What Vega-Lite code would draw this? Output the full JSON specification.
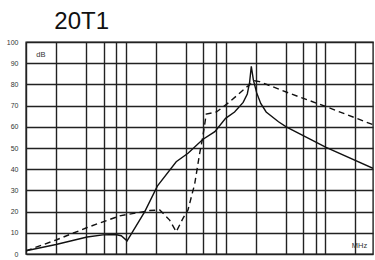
{
  "$schema": "https://vega.github.io/schema/vega-lite/v6.json",
  "width": 347,
  "height": 212,
  "autosize": {"type": "none"},
  "padding": {"left": 26, "top": 42, "right": 2, "bottom": 6},
  "background": "white",
  "title": {"text": "20T1", "anchor": "start", "dx": 48, "offset": -20, "baseline": "bottom", "font": "Liberation Sans", "fontSize": 24, "fontWeight": "normal", "color": "#111"},
  "config": {
    "view": {"stroke": "#222", "strokeWidth": 1.4},
    "axis": {"gridColor": "#222", "gridOpacity": 1, "gridWidth": 1.4, "domain": false, "ticks": false}
  },
  "datasets": {
    "curves": [
      {"series": "solid", "f": 1, "db": 1.5},
      {"series": "solid", "f": 2, "db": 4.5},
      {"series": "solid", "f": 4.1, "db": 8},
      {"series": "solid", "f": 5.9, "db": 9},
      {"series": "solid", "f": 7.9, "db": 9.2},
      {"series": "solid", "f": 9, "db": 8.6},
      {"series": "solid", "f": 10.3, "db": 6.2},
      {"series": "solid", "f": 15.5, "db": 20},
      {"series": "solid", "f": 20.7, "db": 32},
      {"series": "solid", "f": 32, "db": 43.5},
      {"series": "solid", "f": 42, "db": 47.5},
      {"series": "solid", "f": 59, "db": 54},
      {"series": "solid", "f": 78, "db": 57.7},
      {"series": "solid", "f": 100, "db": 64},
      {"series": "solid", "f": 123, "db": 67},
      {"series": "solid", "f": 150, "db": 71.5},
      {"series": "solid", "f": 165, "db": 75.5},
      {"series": "solid", "f": 174, "db": 81},
      {"series": "solid", "f": 181, "db": 88.5},
      {"series": "solid", "f": 190, "db": 82},
      {"series": "solid", "f": 205, "db": 76},
      {"series": "solid", "f": 225, "db": 71},
      {"series": "solid", "f": 255, "db": 67},
      {"series": "solid", "f": 339, "db": 62.4},
      {"series": "solid", "f": 405, "db": 60},
      {"series": "solid", "f": 1016, "db": 50.3},
      {"series": "solid", "f": 3000, "db": 40.4},
      {"series": "dashed", "f": 1, "db": 1.5},
      {"series": "dashed", "f": 2, "db": 6.6},
      {"series": "dashed", "f": 4.1, "db": 12.5},
      {"series": "dashed", "f": 8.7, "db": 18},
      {"series": "dashed", "f": 17.4, "db": 20.5},
      {"series": "dashed", "f": 21.9, "db": 20.8},
      {"series": "dashed", "f": 27.5, "db": 16},
      {"series": "dashed", "f": 32, "db": 10.5},
      {"series": "dashed", "f": 37.4, "db": 16.8},
      {"series": "dashed", "f": 42, "db": 20.8},
      {"series": "dashed", "f": 49, "db": 33},
      {"series": "dashed", "f": 55, "db": 47.5},
      {"series": "dashed", "f": 59, "db": 55},
      {"series": "dashed", "f": 64, "db": 66},
      {"series": "dashed", "f": 81, "db": 67},
      {"series": "dashed", "f": 110, "db": 71.8},
      {"series": "dashed", "f": 161, "db": 78.6},
      {"series": "dashed", "f": 195, "db": 81.7},
      {"series": "dashed", "f": 219, "db": 81.3},
      {"series": "dashed", "f": 437, "db": 75.8},
      {"series": "dashed", "f": 1016, "db": 69.5},
      {"series": "dashed", "f": 3000, "db": 61}
    ],
    "notes": [
      {"label": "dB", "f": 1.41, "db": 94},
      {"label": "MHz", "f": 2200, "db": 4}
    ]
  },
  "encoding": {
    "x": {"field": "f", "type": "quantitative",
          "scale": {"type": "log", "domain": [1, 3000], "nice": false},
          "axis": {"title": null, "labels": false, "grid": true,
                   "values": [1, 2, 4, 6, 8, 10, 20, 40, 60, 80, 100, 200, 400, 600, 800, 1000, 2000]}},
    "y": {"field": "db", "type": "quantitative",
          "scale": {"domain": [0, 100], "nice": false},
          "axis": {"title": null, "values": [0, 10, 20, 30, 40, 50, 60, 70, 80, 90, 100], "labelOverlap": false,
                   "labelFont": "Liberation Sans", "labelFontSize": 7, "labelColor": "#333", "labelPadding": 8}}
  },
  "layer": [
    {
      "data": {"name": "curves"},
      "transform": [{"filter": "datum.series === 'solid'"}],
      "mark": {"type": "line", "color": "#111", "strokeWidth": 1.4, "clip": true}
    },
    {
      "data": {"name": "curves"},
      "transform": [{"filter": "datum.series === 'dashed'"}],
      "mark": {"type": "line", "color": "#111", "strokeWidth": 1.4, "strokeDash": [6, 4], "clip": true}
    },
    {
      "data": {"name": "notes"},
      "mark": {"type": "text", "font": "Liberation Sans", "fontSize": 7.5, "color": "#333", "align": "center", "baseline": "middle"},
      "encoding": {
        "text": {"field": "label"}
      }
    }
  ]
}
